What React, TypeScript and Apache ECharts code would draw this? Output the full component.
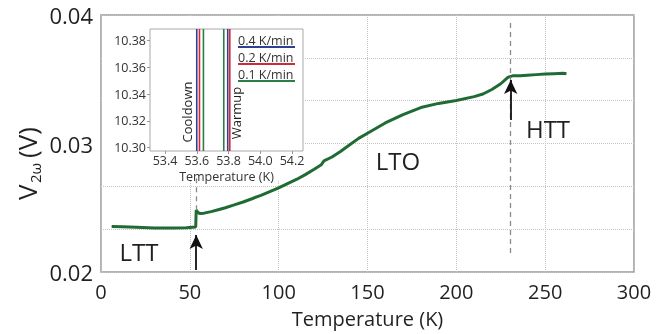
import React, { useEffect, useRef } from "react";
import * as echarts from "echarts";

// Main curve: temperature (K) and second-harmonic voltage (V)
const tempK = [6, 12, 20, 30, 40, 48, 53.3, 53.6, 54.2, 55.5, 58, 62, 66, 70, 75, 80, 85, 90, 95, 100, 105, 110, 115, 120, 124, 125.5, 130, 135, 140, 145, 150, 160, 170, 180, 190, 200, 210, 215, 220, 225, 229, 232, 236, 240, 245, 250, 255, 260, 262];
const v2w = [0.02355, 0.02352, 0.02348, 0.02343, 0.02342, 0.02345, 0.0235, 0.02482, 0.0247, 0.02455, 0.02458, 0.0247, 0.02485, 0.025, 0.02522, 0.02545, 0.0257, 0.02597, 0.02625, 0.02655, 0.02688, 0.0272, 0.02758, 0.028, 0.02835, 0.02865, 0.02895, 0.0294, 0.0299, 0.0304, 0.0308, 0.0316, 0.03225, 0.0328, 0.03312, 0.03335, 0.03365, 0.03385, 0.0342, 0.03465, 0.03515, 0.03528, 0.03527, 0.03532, 0.03536, 0.0354, 0.03543, 0.03546, 0.03542];

// Transition markers
const lttT = 53.6;
const httT = 230.6;

// Inset: transition temperatures for each rate
const rates = ["0.4 K/min", "0.2 K/min", "0.1 K/min"];
const coolT = [53.6, 53.617, 53.642];
const warmT = [53.795, 53.808, 53.77];
const rateColors = ["#2e3f94", "#d3283a", "#2e7d46"];

// Axis ranges / ticks
const yLabels = [0.02, 0.03, 0.04];
const insetXTicks = [53.4, 53.6, 53.8, 54.0, 54.2];
const insetYTicks = [10.3, 10.32, 10.34, 10.36, 10.38];
const insetXRange = [53.3055, 54.269];
const insetYRange = [10.2975, 10.3887];

const FONT = "Open Sans";
const TXT = "#231f20";

export default function App() {
  const ref = useRef<HTMLDivElement>(null);
  useEffect(() => {
    if (!ref.current) return;
    const chart = echarts.init(ref.current, null, { renderer: "svg" });
    const main = tempK.map((t, i) => [t, v2w[i]]);
    const insetSeries: any[] = [];
    rates.forEach((r, i) => {
      insetSeries.push({
        type: "line", xAxisIndex: 1, yAxisIndex: 1, z: 4, symbol: "none",
        lineStyle: { color: rateColors[i], width: 1.6 },
        data: [[coolT[i], insetYRange[0]], [coolT[i], insetYRange[1]]],
        silent: true,
      });
    });
    [2, 0, 1].forEach((i) => {
      insetSeries.push({
        type: "line", xAxisIndex: 1, yAxisIndex: 1, z: 4, symbol: "none",
        lineStyle: { color: rateColors[i], width: 1.6 },
        data: [[warmT[i], insetYRange[0]], [warmT[i], insetYRange[1]]],
        silent: true,
      });
    });

    const legendGraphics: any[] = [];
    rates.forEach((r, i) => {
      legendGraphics.push({
        type: "text", z: 5, x: 238, y: 40 + i * 17,
        style: { text: r, fontSize: 12.5, fontFamily: FONT, fill: "#333", align: "left", verticalAlign: "middle" },
      });
      legendGraphics.push({
        type: "line", z: 5, shape: { x1: 238, y1: 47 + i * 17, x2: 295, y2: 47 + i * 17 },
        style: { stroke: rateColors[i], lineWidth: 2 },
      });
    });

    const isMajor = (v: number) => yLabels.some((m) => Math.abs(m - v) < 1e-7);

    chart.setOption({
      animation: false,
      textStyle: { fontFamily: FONT },
      grid: [
        { left: 101, top: 15, right: 31, bottom: 62, show: true, borderColor: "#999", borderWidth: 1.5, z: 0 },
        { left: 150, top: 29, width: 153, height: 122, show: true, borderColor: "#aaa", borderWidth: 1, z: 3 },
      ],
      xAxis: [
        {
          type: "value", gridIndex: 0, min: 0, max: 300, interval: 50, z: 0,
          axisLine: { show: false }, axisTick: { show: false },
          axisLabel: { fontSize: 20, color: TXT, margin: 9, fontFamily: FONT },
          splitLine: { show: true, lineStyle: { color: "#c4c4c4", type: "dotted", width: 1 } },
          name: "Temperature (K)", nameLocation: "middle", nameGap: 36,
          nameTextStyle: { fontSize: 20, color: TXT, fontFamily: FONT },
        },
        {
          type: "value", gridIndex: 1, min: insetXRange[0], max: insetXRange[1], z: 3,
          axisLine: { show: false },
          axisTick: { show: true, length: 3, customValues: insetXTicks, lineStyle: { color: "#999" } },
          axisLabel: { customValues: insetXTicks, fontSize: 12.5, color: "#333", margin: 3, fontFamily: FONT, formatter: (v: number) => v.toFixed(1) },
          splitLine: { show: false },
          name: "Temperature (K)", nameLocation: "middle", nameGap: 19,
          nameTextStyle: { fontSize: 12.5, color: "#333", fontFamily: FONT, lineHeight: 13 },
        },
      ],
      yAxis: [
        {
          type: "value", gridIndex: 0, min: 0.02, max: 0.04, interval: 0.02 / 6, z: 0,
          axisLine: { show: false }, axisTick: { show: false },
          axisLabel: { fontSize: 22, color: TXT, margin: 8, fontFamily: FONT, formatter: (v: number) => (isMajor(v) ? v.toFixed(2) : "") },
          splitLine: { show: true, lineStyle: { color: "#c4c4c4", type: "dotted", width: 1 } },
        },
        {
          type: "value", gridIndex: 1, min: insetYRange[0], max: insetYRange[1], z: 3,
          axisLine: { show: false },
          axisTick: { show: true, length: 3, customValues: insetYTicks, lineStyle: { color: "#999" } },
          axisLabel: { customValues: insetYTicks, fontSize: 12.5, color: "#333", margin: 4, fontFamily: FONT, formatter: (v: number) => v.toFixed(2) },
          splitLine: { show: false },
        },
      ],
      graphic: [
        { type: "rect", z: 1, shape: { x: 102, y: 16, width: 202, height: 165 }, style: { fill: "#fff" } },
        {
          type: "group", x: 27, y: 200, rotation: Math.PI / 2, z: 5,
          children: [
            { type: "text", x: 0, y: 0, style: { text: "V", fontSize: 26, fontFamily: FONT, fill: TXT, align: "left", verticalAlign: "middle" } },
            { type: "text", x: 17, y: 8, style: { text: "2ω", fontSize: 15, fontFamily: FONT, fill: TXT, align: "left", verticalAlign: "middle" } },
            { type: "text", x: 42, y: 0, style: { text: "(V)", fontSize: 26, fontFamily: FONT, fill: TXT, align: "left", verticalAlign: "middle" } },
          ],
        },
        {
          type: "group", x: 108, y: 122, rotation: Math.PI / 2, z: 5,
          children: [
            { type: "text", x: 0, y: 0, style: { text: "V", fontSize: 13, fontFamily: FONT, fill: "#333", align: "left", verticalAlign: "middle" } },
            { type: "text", x: 8, y: 4, style: { text: "2ω", fontSize: 8.5, fontFamily: FONT, fill: "#333", align: "left", verticalAlign: "middle" } },
            { type: "text", x: 22, y: 0, style: { text: "(mV)", fontSize: 12, fontFamily: FONT, fill: "#333", align: "left", verticalAlign: "middle" } },
          ],
        },
        { type: "text", z: 5, x: 187, y: 112, rotation: Math.PI / 2, style: { text: "Cooldown", fontSize: 13, fontFamily: FONT, fill: TXT, align: "center", verticalAlign: "middle" } },
        { type: "text", z: 5, x: 236, y: 113, rotation: Math.PI / 2, style: { text: "Warmup", fontSize: 13, fontFamily: FONT, fill: TXT, align: "center", verticalAlign: "middle" } },
        ...legendGraphics,
        { type: "text", z: 5, x: 139, y: 251, style: { text: "LTT", fontSize: 24, fontFamily: FONT, fill: TXT, align: "center", verticalAlign: "middle" } },
        { type: "text", z: 5, x: 398, y: 160, style: { text: "LTO", fontSize: 24, fontFamily: FONT, fill: TXT, align: "center", verticalAlign: "middle" } },
        { type: "text", z: 5, x: 548, y: 128, style: { text: "HTT", fontSize: 24, fontFamily: FONT, fill: TXT, align: "center", verticalAlign: "middle" } },
      ],
      series: [
        {
          type: "line", xAxisIndex: 0, yAxisIndex: 0, data: [], z: 1, silent: true,
          markLine: {
            silent: true, symbol: ["none", "none"], label: { show: false },
            lineStyle: { color: "#8a8a8a", type: [5, 4], width: 1.3 },
            data: [
              [{ coord: [lttT, 0.0273] }, { coord: [lttT, 0.0246] }],
              [{ coord: [httT, 0.03938] }, { coord: [httT, 0.02125] }],
            ],
          },
        },
        {
          type: "line", xAxisIndex: 0, yAxisIndex: 0, data: main, z: 2, symbol: "none", silent: true,
          lineStyle: { color: "#1f6b34", width: 3 },
        },
        {
          type: "line", xAxisIndex: 0, yAxisIndex: 0, data: [], z: 3, silent: true,
          markLine: {
            silent: true, symbol: ["none", "arrow"], symbolSize: [10, 14], label: { show: false },
            lineStyle: { color: "#111", type: "solid", width: 1.8 },
            data: [
              [{ coord: [lttT, 0.02016] }, { coord: [lttT, 0.02288] }],
              [{ coord: [httT, 0.03183] }, { coord: [httT, 0.03494] }],
            ],
          },
        },
        ...insetSeries,
      ],
    });
    return () => chart.dispose();
  }, []);
  return <div ref={ref} style={{ position: "fixed", left: 0, top: 0, width: 665, height: 334 }} />;
}
